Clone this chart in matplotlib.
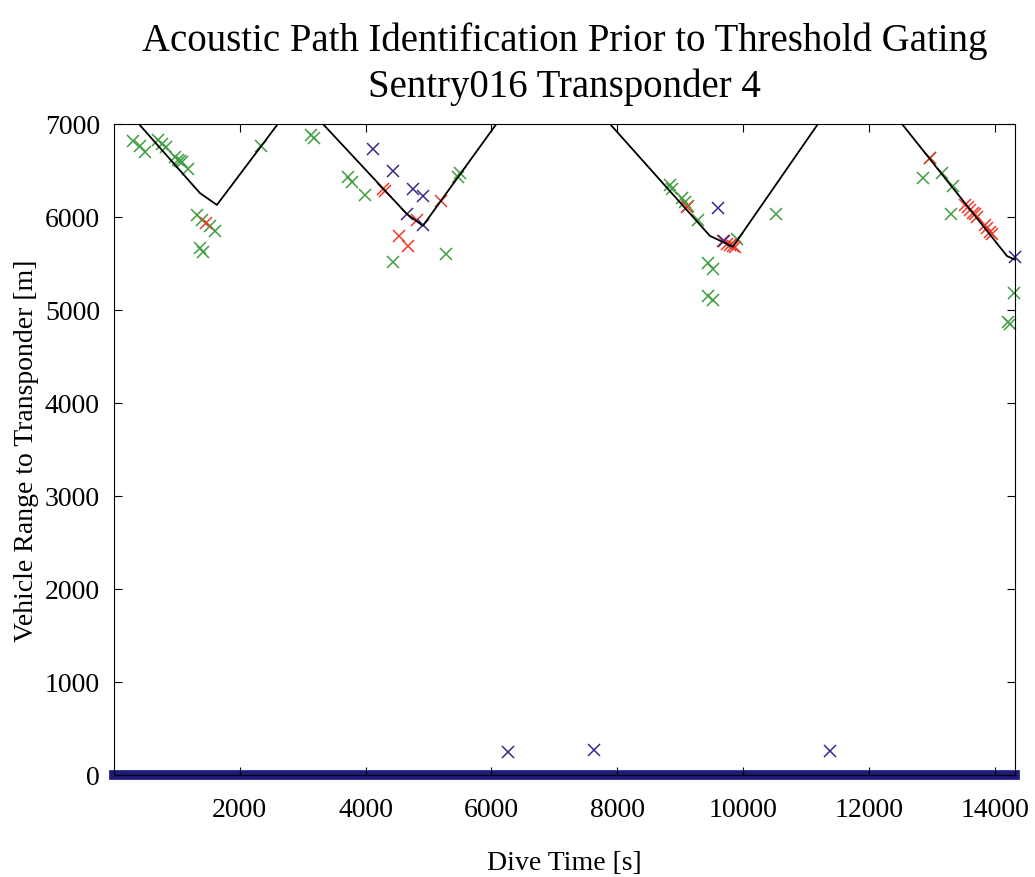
import numpy as np
import matplotlib
matplotlib.use('Agg')
import matplotlib.pyplot as plt

plt.rcParams['font.family'] = ['Liberation Serif', 'DejaVu Serif']

# predicted vehicle range (black line)
line_t = [397, 1367, 1637, 2606, 3321, 4656, 4910, 6078, 7882, 9471, 9836, 11187, 12522, 14190, 14318]
line_r = [7000, 6257, 6129, 7000, 7000, 6031, 5905, 7000, 7000, 5796, 5680, 7000, 7000, 5580, 5540]

# green returns
g_t = [302, 413, 493, 699, 763, 826, 969, 1017, 1081, 1176, 1050, 2336, 1319, 1398, 1526, 1605,
       1367, 1414, 3130, 3180, 3718, 3782, 3989, 4434, 5276, 5498, 5466, 8835, 8867, 9026, 9074,
       9121, 9280, 9900, 10520, 9439, 9518, 9439, 9518, 12967, 12855, 13158, 13332, 13300, 14300,
       14210, 14240]
g_r = [6819, 6767, 6702, 6832, 6779, 6747, 6641, 6609, 6588, 6513, 6600, 6758, 6020, 5966, 5900, 5845,
       5666, 5623, 6880, 6850, 6433, 6381, 6231, 5514, 5606, 6468, 6425, 6340, 6297, 6201, 6158,
       6115, 5966, 5766, 6028, 5505, 5441, 5150, 5107, 6637, 6421, 6476, 6338, 6037, 5180,
       4870, 4850]

# red returns
r_t = [1462, 4306, 4275, 4815, 4529, 4672, 5196, 9105, 9677, 9740, 9789, 9836, 9870, 12967,
       13523, 13571, 13603, 13650, 13682, 13714, 13841, 13873, 13920, 13952]
r_r = [5934, 6277, 6298, 5968, 5794, 5687, 6175, 6105, 5740, 5710, 5701, 5690, 5680, 6630,
       6130, 6102, 6070, 6038, 6027, 5995, 5910, 5879, 5836, 5815]

# blue returns
b_t = [4116, 4434, 4751, 4910, 4656, 4910, 9598, 9693, 14310, 6261, 7628, 11378]
b_r = [6727, 6493, 6301, 6227, 6031, 5915, 6097, 5742, 5570, 247, 270, 258]

# zero-range returns along the bottom
zero_t = [0, 14318]
zero_r = [0, 0]

xticks = [2000, 4000, 6000, 8000, 10000, 12000, 14000]
yticks = [0, 1000, 2000, 3000, 4000, 5000, 6000, 7000]

fig = plt.figure(figsize=(10.35, 8.78), dpi=100)
ax = fig.add_axes([0.110, 0.1162, 0.8707, 0.7415])

ax.plot(zero_t, zero_r, color='#1c1a7a', lw=7, clip_on=False, zorder=1)
ax.plot(g_t, g_r, 'x', color='#3f9e3f', ms=8, mew=1.1, clip_on=False)
ax.plot(r_t, r_r, 'x', color='#f03a26', ms=8, mew=1.1, clip_on=False)
ax.plot(b_t, b_r, 'x', color='#3a2890', ms=8, mew=1.1, clip_on=False)
ax.plot(line_t, line_r, color='black', lw=1.3)

ax.set_xlim(0, 14318)
ax.set_ylim(0, 7000)
ax.set_xticks(xticks)
ax.set_yticks(yticks)
ax.tick_params(direction='in', top=True, right=True, length=6, labelsize=20, pad=10)
ax.tick_params(axis='x', pad=16)

ax.set_xlabel('Dive Time [s]', fontsize=20, labelpad=20)
ax.set_ylabel('Vehicle Range to Transponder [m]', fontsize=20)
ax.set_title('Acoustic Path Identification Prior to Threshold Gating\nSentry016 Transponder 4',
             fontsize=28, linespacing=1.3, pad=20)

fig.savefig('out.png', dpi=100)
